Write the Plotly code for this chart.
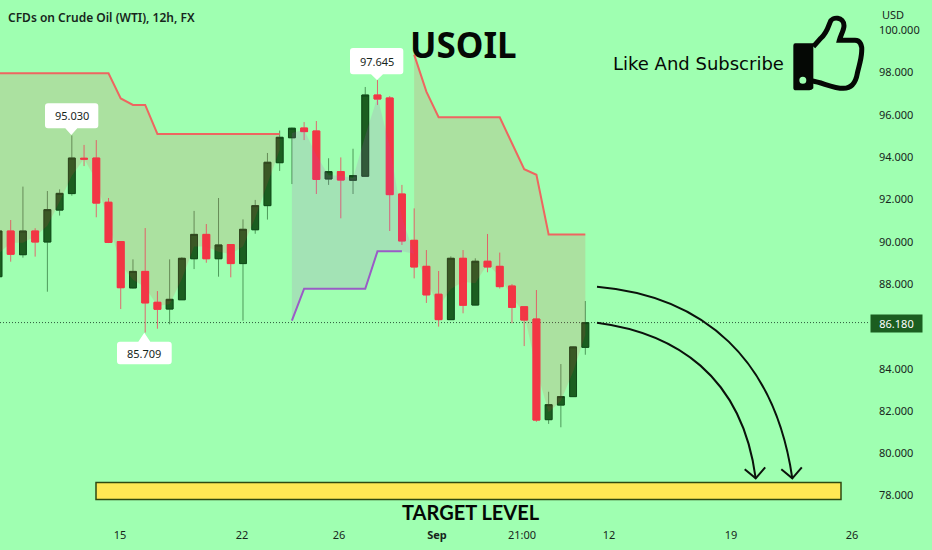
import plotly.graph_objects as go

# ---------- data ----------
opens  = [88.35,90.51,89.39,90.51,89.99,91.50,92.28,93.95,93.96,91.87,90.01,87.82,88.60,87.14,86.82,87.26,89.20,90.35,89.20,89.87,88.97,90.57,91.71,93.74,94.92,95.38,95.24,92.97,93.32,92.91,93.10,96.94,96.80,92.26,90.07,88.84,87.52,86.32,89.22,87.01,89.08,88.84,87.91,86.93,86.35,81.59,82.28,82.68,85.01]
highs  = [90.60,91.03,92.61,90.64,92.40,92.48,95.03,94.58,94.81,92.07,90.01,89.17,90.65,87.67,89.17,89.27,91.46,90.84,92.07,89.87,91.06,91.98,94.20,95.26,95.40,95.66,95.71,93.95,93.99,94.40,97.32,97.645,96.89,92.69,91.58,89.61,88.62,89.31,89.61,89.22,90.37,89.49,88.00,86.93,87.72,82.91,84.22,85.05,87.20]
lows   = [87.72,89.06,89.25,89.30,87.64,91.24,92.18,93.58,91.16,89.94,86.82,87.79,85.709,85.89,86.10,87.25,88.71,89.01,88.35,88.32,86.27,90.38,91.05,93.35,92.73,94.81,92.26,92.69,91.11,92.26,93.10,96.47,90.51,89.85,88.27,87.11,85.99,86.30,86.62,87.00,88.56,87.79,86.15,85.07,81.49,81.39,81.23,82.66,84.66]
closes = [90.51,89.41,90.51,89.99,91.52,92.29,93.96,93.91,91.83,89.97,87.83,88.60,87.11,86.81,87.28,89.22,90.35,89.20,89.85,88.97,90.59,91.71,93.76,94.94,95.37,95.21,92.95,93.32,92.92,93.13,96.94,96.75,92.23,90.04,88.81,87.49,86.32,89.22,87.00,89.08,88.81,87.88,86.90,86.30,81.57,82.30,82.68,85.03,86.18]

stop_a      = [97.97,97.97,97.97,97.97,97.97,97.97,97.97,97.97,97.97,97.97,96.78,96.47,96.47,95.10,95.10,95.10,95.10,95.10,95.10,95.10,95.10,95.10,95.10,95.10]
stop_b      = [98.85,97.10,95.89,95.89,95.89,95.89,95.89,95.89,94.66,93.43,93.17,90.35,90.35,90.35,90.35]
stop_support= [86.27,87.78,87.78,87.78,87.78,87.78,87.78,89.55,89.55,89.55]

y_ticks = [78,80,82,84,88,90,92,94,96,98,100]
x_tick_text = ["15","22","26","<b>Sep</b>","21:00","12","19","26"]
x_tick_px   = [120,242,339,437,522,609,731,852]
callouts = [("95.030",45,98.3,103.3,128.3,71.3,135),
            ("97.645",350,403.3,48,74.3,377,80),
            ("85.709",117,171.7,341.7,364.3,144.3,332.7)]

# ---------- layout mapping ----------
W,H = 932,550
PLOT_R, PLOT_B = 878, 520
BG = "#9FFFB1"
def X(px): return 1+(px-10.7)/12.226
def Y(py): return 100-(py-30.3)/21.15
def P(cmds):
    out=[]
    for c in cmds:
        if isinstance(c,str): out.append(c)
        else: out.append(f"{X(c[0]):.4f},{Y(c[1]):.4f}")
    return " ".join(out)
def Z(x,y): return (780+x/3,5+y/3)

idx = list(range(len(opens)))
mid = [(o+c)/2 for o,c in zip(opens,closes)]
GREEN,RED="#1B5E20","#F23645"

fig = go.Figure()
def band(xs,base,top,fill):
    fig.add_trace(go.Scatter(x=xs,y=base,mode="lines",line=dict(width=0,color="rgba(0,0,0,0)"),hoverinfo="skip",showlegend=False))
    fig.add_trace(go.Scatter(x=xs,y=top,mode="lines",line=dict(width=0,color="rgba(0,0,0,0)"),fill="tonexty",fillcolor=fill,hoverinfo="skip",showlegend=False))
RFILL="rgba(242,54,69,0.15)"
BFILL="rgba(190,70,210,0.15)"
band(idx[:24],mid[:24],stop_a,RFILL)
band(idx[24:35],stop_support+[mid[34]],mid[24:35],BFILL)
band(idx[34:],mid[34:],stop_b,RFILL)
fig.add_trace(go.Scatter(x=idx[:24],y=stop_a,mode="lines",line=dict(width=2,color="#EE6660"),hoverinfo="skip",showlegend=False))
fig.add_trace(go.Scatter(x=idx[34:],y=stop_b,mode="lines",line=dict(width=2,color="#EE6660"),hoverinfo="skip",showlegend=False))
fig.add_trace(go.Scatter(x=idx[24:34],y=stop_support,mode="lines",line=dict(width=2,color="#9A5CC6"),hoverinfo="skip",showlegend=False))

fig.add_trace(go.Candlestick(x=idx,open=opens,high=highs,low=lows,close=closes,
    increasing=dict(line=dict(color="#4E9A5A",width=1),fillcolor=GREEN),
    decreasing=dict(line=dict(color="#DE6A6E",width=1),fillcolor=RED),
    whiskerwidth=0,showlegend=False))
fig.add_trace(go.Candlestick(x=idx,open=opens,close=closes,
    high=[max(o,c) for o,c in zip(opens,closes)],low=[min(o,c) for o,c in zip(opens,closes)],
    increasing=dict(line=dict(color="#0F4A18",width=1),fillcolor=GREEN),
    decreasing=dict(line=dict(color=RED,width=1),fillcolor=RED),
    whiskerwidth=0,showlegend=False))

shapes=[]
shapes.append(dict(type="line",x0=X(0),x1=X(870),y0=closes[-1],y1=closes[-1],layer="below",
                   line=dict(color="#2C5A3C",width=1,dash="1px,2px")))
shapes.append(dict(type="rect",x0=X(96),x1=X(841),y0=Y(482.5),y1=Y(499.5),fillcolor="#FFE854",
                   line=dict(color="#2F4A10",width=1.5),layer="above"))
CURVE="#0B120C"
curves=[[(597,286.7),(705,296),(775,360),(792.3,478.3)],[(597,322.7),(675,333),(742,375),(755.7,478.3)]]
for c in curves:
    shapes.append(dict(type="path",path=P(["M",c[0],"C",c[1],c[2],c[3]]),line=dict(color=CURVE,width=2),layer="above"))
    tip=c[3]
    shapes.append(dict(type="path",path=P(["M",(tip[0]-11,tip[1]-9),"L",tip,"L",(tip[0]+9.5,tip[1]-11)]),line=dict(color=CURVE,width=2),layer="above"))
for txt,x0,x1,y0,y1,tx,ty in callouts:
    r=3
    if ty>y1:
        path=["M",(x0+r,y0),"L",(x1-r,y0),"Q",(x1,y0),(x1,y0+r),"L",(x1,y1-r),"Q",(x1,y1),(x1-r,y1),"L",(tx+6,y1),"L",(tx,ty),"L",(tx-6,y1),"L",(x0+r,y1),"Q",(x0,y1),(x0,y1-r),"L",(x0,y0+r),"Q",(x0,y0),(x0+r,y0),"Z"]
    else:
        path=["M",(x0+r,y0),"L",(tx-6,y0),"L",(tx,ty),"L",(tx+6,y0),"L",(x1-r,y0),"Q",(x1,y0),(x1,y0+r),"L",(x1,y1-r),"Q",(x1,y1),(x1-r,y1),"L",(x0+r,y1),"Q",(x0,y1),(x0,y1-r),"L",(x0,y0+r),"Q",(x0,y0),(x0+r,y0),"Z"]
    shapes.append(dict(type="path",path=P(path),fillcolor="#FFFFFF",line=dict(width=0),layer="above"))
cuff=["M",Z(46,115),"L",Z(100,115),"L",Z(100,250),"Q",Z(95,256),Z(88,256),"L",Z(48,256),"Q",Z(40,256),Z(40,248),"L",Z(40,122),"Q",Z(40,115),Z(46,115),"Z"]
shapes.append(dict(type="path",path=P(cuff),fillcolor="#050805",line=dict(width=0),layer="above"))
shapes.append(dict(type="circle",x0=X(780+58/3),x1=X(780+79/3),y0=Y(5+215/3),y1=Y(5+236/3),fillcolor=BG,line=dict(width=0),layer="above"))
hand=["M",Z(100,125),"L",Z(122,100),"C",Z(140,85),Z(146,62),Z(150,52),"C",Z(156,33),Z(192,35),Z(192,62),"C",Z(192,75),Z(182,90),Z(178,106),
      "L",Z(225,106),"C",Z(240,106),Z(247,120),Z(245,140),"C",Z(244,165),Z(236,185),Z(232,205),"C",Z(228,228),Z(218,250),Z(190,250),"C",Z(160,250),Z(125,232),Z(98,228)]
shapes.append(dict(type="path",path=P(hand),line=dict(color="#050805",width=5),layer="above"))

TXT="#17261C"
def note(text,px,py,size,color=TXT,family="Noto Sans",anchor="center",weight=400):
    return dict(text=text,x=X(px),y=Y(py),xref="x",yref="y",showarrow=False,xanchor=anchor,yanchor="middle",
                font=dict(size=size,color=color,family=family,weight=weight),borderpad=0)
ann=[note("<b>USOIL</b>",463.5,44,35,"#050805"),
     note("Like And Subscribe",698,63,18,"#050805","DejaVu Sans"),
     note("<b>TARGET LEVEL</b>",471,512,20,"#050805","Lato"),
     note("CFDs on Crude Oil (WTI), 12h, FX",7,17,12,TXT,anchor="left",weight=600)]
for txt,x0,x1,y0,y1,tx,ty in callouts:
    ann.append(note(txt,(x0+x1)/2,(y0+y1)/2,11))
ann.append(dict(text="USD",xref="paper",yref="paper",x=881/PLOT_R,y=1-14/PLOT_B,showarrow=False,xanchor="left",yanchor="middle",
                font=dict(size=11,color=TXT,family="Noto Sans"),borderpad=0))
ann.append(dict(text=f"{closes[-1]:.3f}",xref="paper",yref="paper",x=896.5/PLOT_R,y=1-323.3/PLOT_B,showarrow=False,xanchor="center",yanchor="middle",
                width=51,height=17,bgcolor=GREEN,font=dict(size=11,color="#FFFFFF",family="Noto Sans"),borderpad=0))

fig.update_layout(width=W,height=H,paper_bgcolor=BG,plot_bgcolor=BG,showlegend=False,
    margin=dict(l=0,r=W-PLOT_R,t=0,b=H-PLOT_B,autoexpand=False),
    boxgap=0.2,shapes=shapes,annotations=ann,hovermode=False,
    font=dict(family="Noto Sans",size=11,color=TXT),
    xaxis=dict(range=[X(0),X(PLOT_R)],showgrid=False,zeroline=False,showline=False,rangeslider=dict(visible=False),
               tickmode="array",tickvals=[X(p) for p in x_tick_px],ticktext=x_tick_text,
               ticks="outside",ticklen=5,tickcolor="rgba(0,0,0,0)",tickfont=dict(size=11,color=TXT)),
    yaxis=dict(range=[Y(PLOT_B),Y(0)],side="right",showgrid=False,zeroline=False,showline=False,
               tickmode="array",tickvals=y_ticks,tickformat=".3f",ticks="",tickfont=dict(size=11,color=TXT)))
fig.write_html("out.html",config={"displayModeBar":False},
               post_script="document.body.style.margin='0';document.body.style.overflow='hidden';document.body.style.background='"+BG+"';")
